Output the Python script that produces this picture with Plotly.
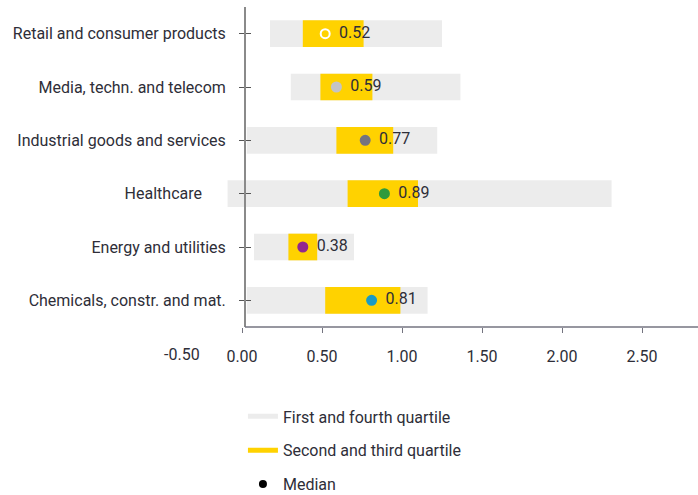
import plotly.graph_objects as go

# Sector distributions
sectors = [
    "Retail and consumer products",
    "Media, techn. and telecom",
    "Industrial goods and services",
    "Healthcare",
    "Energy and utilities",
    "Chemicals, constr. and mat.",
]
sector_labels = [
    "Retail and consumer products",
    "Media, techn. and telecom",
    "Industrial goods and services",
    "Healthcare\u00a0\u00a0\u00a0\u00a0\u00a0\u00a0",
    "Energy and utilities",
    "Chemicals, constr. and mat.",
]
outer_low = [0.175, 0.305, 0.03, -0.09, 0.075, 0.03]
outer_high = [1.25, 1.365, 1.22, 2.31, 0.70, 1.16]
inner_low = [0.38, 0.49, 0.59, 0.66, 0.29, 0.52]
inner_high = [0.76, 0.815, 0.945, 1.10, 0.47, 0.99]
medians = [0.52, 0.59, 0.77, 0.89, 0.38, 0.81]
median_colors = ["rgba(0,0,0,0)", "#c4c4c4", "#747480", "#2f9a3c", "#91278f", "#1a9bc4"]
median_lines = ["#ffffff", "#c4c4c4", "#747480", "#2f9a3c", "#91278f", "#1a9bc4"]

tick_vals = [0, 0.5, 1.0, 1.5, 2.0, 2.5]
tick_text = ["0.00", "0.50", "1.00", "1.50", "2.00", "2.50"]
extra_tick_text = "-0.50"

GREY = "#ececec"
YELLOW = "#ffd200"
TEXT = "#2e2e38"
FONT = "Roboto"
FS = 16

W, H = 698, 495
L, R, T, B = 222, 0, 7, 168
plot_w = W - L - R

fig = go.Figure()

fig.add_trace(go.Bar(
    y=sectors, x=[h - l for l, h in zip(outer_low, outer_high)], base=outer_low,
    orientation="h", marker=dict(color=GREY, line_width=0),
    showlegend=False, hoverinfo="skip",
))
fig.add_trace(go.Bar(
    y=sectors, x=[h - l for l, h in zip(inner_low, inner_high)], base=inner_low,
    orientation="h", marker=dict(color=YELLOW, line_width=0),
    showlegend=False, hoverinfo="skip",
))
fig.add_trace(go.Scatter(
    y=sectors, x=medians, mode="markers+text",
    marker=dict(size=9, color=median_colors, line=dict(color=median_lines, width=2)),
    text=[f"\u00a0\u2009{m:.2f}" for m in medians], textposition="middle right",
    textfont=dict(family=FONT, size=FS, color=TEXT),
    showlegend=False, hoverinfo="skip", cliponaxis=False,
))

# legend entries
fig.add_trace(go.Scatter(x=[None], y=[None], mode="lines", line=dict(color=GREY, width=5),
                         name="First and fourth quartile", legendgroup="a"))
fig.add_trace(go.Scatter(x=[None], y=[None], mode="lines", line=dict(color=YELLOW, width=5),
                         name="Second and third quartile", legendgroup="b"))
fig.add_trace(go.Scatter(x=[None], y=[None], mode="markers", marker=dict(color="#000000", size=8),
                         name="Median", legendgroup="c"))

axis_x_paper = (245 - L) / plot_w
tick_axis_paper = (251 - L) / plot_w

fig.update_layout(
    width=W, height=H,
    margin=dict(l=L, r=R, t=T, b=B, autoexpand=False),
    paper_bgcolor="white", plot_bgcolor="white",
    barmode="overlay", bargap=0.5,
    font=dict(family=FONT, size=FS, color=TEXT),
    xaxis=dict(
        range=[-0.125, 2.85], showgrid=False, zeroline=False, showline=False,
        tickmode="array", tickvals=tick_vals, ticktext=tick_text,
        ticks="outside", ticklen=5, tickcolor="#747480", tickwidth=1,
        tickfont=dict(family=FONT, size=FS, color=TEXT), ticklabelstandoff=10,
    ),
    yaxis=dict(
        categoryorder="array", categoryarray=sectors, autorange="reversed",
        tickmode="array", tickvals=sectors, ticktext=sector_labels,
        showgrid=False, zeroline=False, showline=False,
        anchor="free", position=tick_axis_paper,
        ticks="outside", ticklen=12, tickcolor="#555555", tickwidth=1,
        tickfont=dict(family=FONT, size=FS, color=TEXT), ticklabelstandoff=10,
    ),
    legend=dict(
        x=0.044, xanchor="left", yref="container", y=0.193, yanchor="top",
        font=dict(family=FONT, size=FS, color=TEXT),
        tracegroupgap=10, itemwidth=30, bgcolor="rgba(0,0,0,0)",
    ),
    shapes=[
        dict(type="line", xref="paper", yref="paper", x0=axis_x_paper, x1=axis_x_paper,
             y0=0, y1=1, line=dict(color="#8a8a8a", width=2)),
        dict(type="line", xref="paper", yref="paper", x0=axis_x_paper, x1=1,
             y0=0, y1=0, line=dict(color="#747480", width=1.5)),
    ],
    annotations=[
        dict(text=extra_tick_text, xref="paper", yref="paper", x=(182 - L) / plot_w, y=0,
             xanchor="center", yanchor="top", yshift=-16, showarrow=False,
             font=dict(family=FONT, size=FS, color=TEXT)),
    ],
)

fig.write_html("out.html")
